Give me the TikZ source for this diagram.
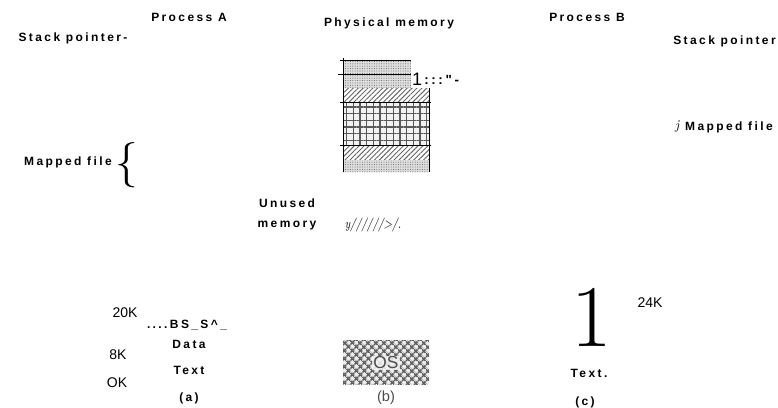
\documentclass[tikz,border=0pt]{standalone}
\usepackage{fontspec}
\usepackage{graphicx}
\newfontfamily\lblfont{Liberation Sans}[LetterSpace=20]
\newfontfamily\numfont{Liberation Sans}
\usetikzlibrary{patterns.meta}

\tikzset{
  lbl/.style={font=\lblfont\bfseries\fontsize{9}{15}\selectfont, inner sep=0pt},
  numlbl/.style={font=\numfont\fontsize{10.5}{12}\selectfont, inner sep=0pt},
  seriflbl/.style={font=\fontsize{10}{12}\selectfont, inner sep=0pt},
  memstipple/.style={preaction={fill=gray!25}, pattern={Dots[distance=1.8pt, radius=0.4pt]}, pattern color=gray!80!black},
  memhatch/.style={pattern={Lines[angle=45, distance=2.6pt, line width=0.7pt]}, pattern color=gray!80!black},
  memgrid/.style={preaction={fill=gray!10}, pattern={Hatch[angle=0, distance=5pt, line width=1.1pt]}, pattern color=gray!70!black},
  oscross/.style={preaction={fill=gray!15}, pattern={Hatch[angle=45, distance=4pt, line width=1.3pt]}, pattern color=gray!75!black}
}

\begin{document}
\begin{tikzpicture}[x=0.75pt, y=-0.75pt]
  \useasboundingbox (0,0) rectangle (778,407);
  % Headings
  \node[lbl] (procA) at (189,17) {Process A};
  \node[lbl] (stackA) at (73,38) {Stack pointer-};
  \node[lbl] (phys) at (389,23) {Physical memory};
  \node[lbl] (procB) at (587,17) {Process B};
  \node[lbl, anchor=east] (stackB) at (776,41) {Stack pointer};
  % Physical memory strips
  \fill[memstipple] (343,60) rectangle (411,74);
  \fill[memstipple] (343,75) rectangle (411,88);
  \fill[memhatch] (343,88) rectangle (429,102);
  \fill[memgrid] (343,102) rectangle (429,145);
  \fill[memhatch] (343,145) rectangle (429,160);
  \fill[memstipple] (343,160) rectangle (429,172);
  \draw[line width=0.6pt] (343,58) -- (343,172);
  \draw[line width=0.7pt] (340,60) -- (411,60);
  \draw[line width=0.7pt] (338,74.5) -- (411,74.5);
  \draw[line width=0.5pt] (340,102) -- (431,102);
  \draw[line width=0.5pt] (340,145) -- (431,145);
  \draw[line width=0.5pt] (429,88) -- (429,172);
  \node[numlbl, font=\numfont\fontsize{13.5}{14}\selectfont, anchor=south] (one) at (417,86) {1};
  \node[lbl, font=\lblfont\bfseries\fontsize{10}{12}\selectfont, anchor=west] (dots) at (424,80) {:::"-};
  % Mapped file labels
  \node[lbl, anchor=east] (mapA) at (112,162) {Mapped file};
  \node[seriflbl, font=\fontsize{34}{34}\selectfont] (brace) at (127,165) {\{};
  \node[lbl, anchor=east] (mapB) at (773,127) {Mapped file};
  \node[seriflbl, font=\itshape\fontsize{10}{12}\selectfont, anchor=east] (jB) at ([xshift=-4pt]mapB.west) {j};
  % Unused memory
  \node[lbl, align=center] (unused) at (287,214) {Unused\\memory};
  \node[seriflbl, font=\itshape\fontsize{10.5}{12}\selectfont] (slash) at (373,225) {\scalebox{0.78}[1]{y//////>/.}};
  % Process A layout
  \node[numlbl] (k20) at (125,313) {20K};
  \node[lbl] (bss) at (187,325) {....BS\_S\textasciicircum\_};
  \node[lbl] (dataA) at (189,344) {Data};
  \node[numlbl] (k8) at (118,355) {8K};
  \node[lbl] (textA) at (189,370) {Text};
  \node[numlbl] (k0) at (117,383) {OK};
  \node[lbl] (capA) at (189,398) {(a)};
  % Operating system
  \fill[oscross] (343,340) rectangle (429,384);
  \node[numlbl, fill=gray!8, fill opacity=0.85, text opacity=1, text=gray!60!black, inner sep=1pt, font=\numfont\fontsize{13}{14}\selectfont] (os) at (386,363) {OS};
  \node[numlbl, text=gray!60!black, font=\numfont\fontsize{11}{12}\selectfont] (capB) at (386,398) {(b)};
  % Process B layout
  \node[seriflbl, font=\fontsize{66}{66}\selectfont, anchor=south] (bigone) at (592,347) {1};
  \node[numlbl] (k24) at (650,303) {24K};
  \node[lbl] (textB) at (589,373) {Text.};
  \node[lbl] (capC) at (585,402) {(c)};
\end{tikzpicture}
\end{document}
